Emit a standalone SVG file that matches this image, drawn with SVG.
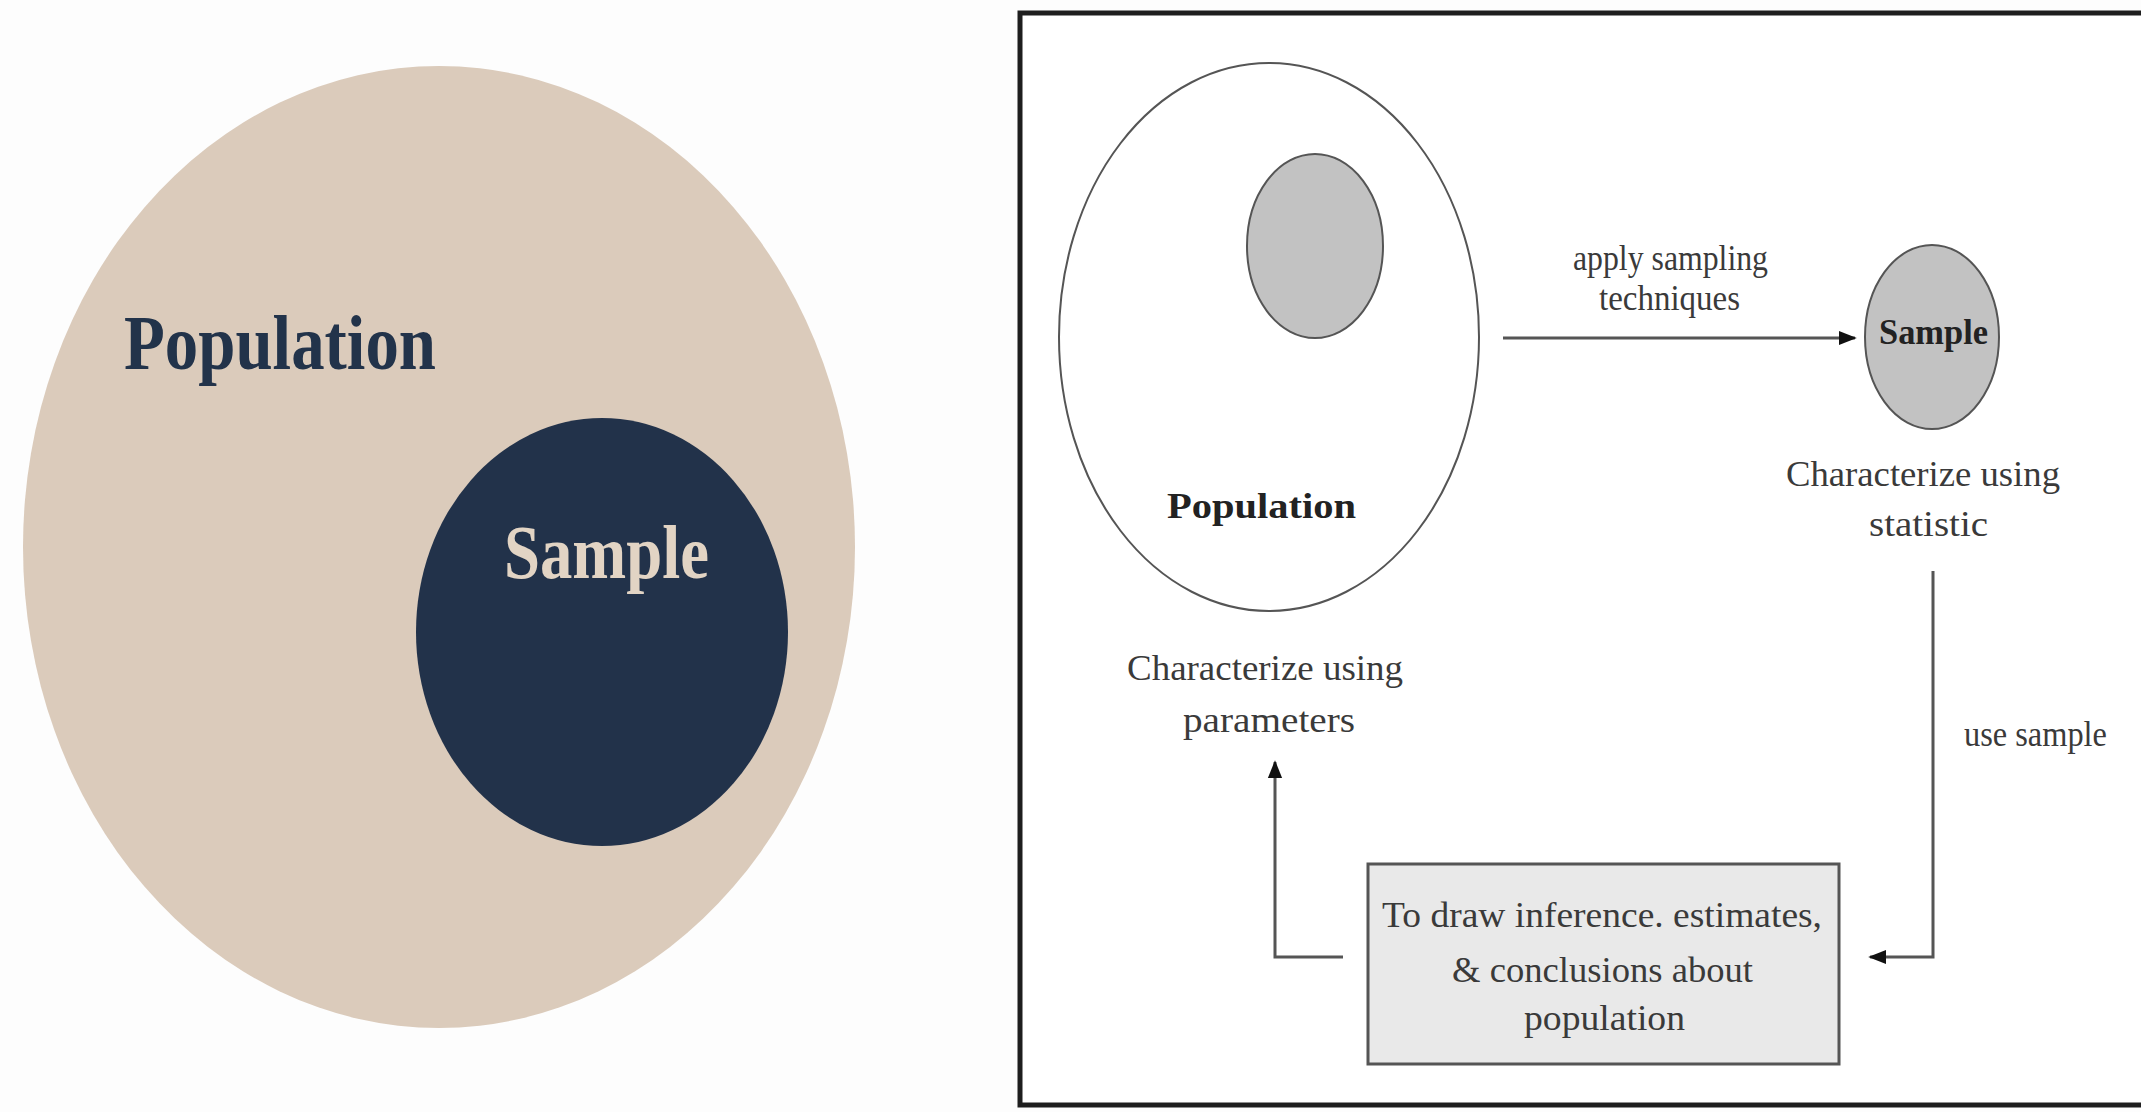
<svg xmlns="http://www.w3.org/2000/svg" width="2141" height="1112" viewBox="0 0 2141 1112">
  <style>
    .venn-label { font-family: "Liberation Serif", "Times New Roman", serif; font-weight: bold; }
    .lbl { font-family: "Liberation Serif", "Times New Roman", serif; font-size: 36px; fill: #3a3a3a; }
    .bold { font-weight: bold; fill: #222; }
    .outline { fill: none; stroke: #555; stroke-width: 2; }
    .grey { fill: #c2c2c2; stroke: #555; stroke-width: 2; }
    .conn { fill: none; stroke: #555; stroke-width: 3; }
  </style>
  <defs>
    <marker id="arrow" viewBox="0 0 10 10" refX="9" refY="5" markerWidth="6" markerHeight="6" orient="auto" markerUnits="strokeWidth">
      <path d="M0,1 L10,5 L0,9 Z" fill="#111"/>
    </marker>
  </defs>

  <rect x="0" y="0" width="2141" height="1112" fill="#fdfdfd"/>

  <!-- Venn-style population / sample figure -->
  <g id="venn-population">
    <ellipse cx="439" cy="547" rx="416" ry="481" fill="#dbcbbb"/>
    <text class="venn-label" x="124" y="369" font-size="78" fill="#22334a" textLength="312" lengthAdjust="spacingAndGlyphs">Population</text>
  </g>
  <g id="venn-sample">
    <ellipse cx="602" cy="632" rx="186" ry="214" fill="#22324a"/>
    <text class="venn-label" x="504" y="578" font-size="76" fill="#e2d4c4" textLength="205" lengthAdjust="spacingAndGlyphs">Sample</text>
  </g>

  <!-- Framed sampling-process diagram -->
  <rect x="1020" y="13" width="1130" height="1092" fill="#ffffff" stroke="#1e1e1e" stroke-width="5"/>

  <g id="population">
    <ellipse class="outline" cx="1269" cy="337" rx="210" ry="274"/>
    <ellipse class="grey" cx="1315" cy="246" rx="68" ry="92"/>
    <text class="lbl bold" x="1167" y="518" font-size="40" textLength="189" lengthAdjust="spacingAndGlyphs">Population</text>
    <text class="lbl" x="1127" y="680" textLength="276" lengthAdjust="spacingAndGlyphs">Characterize using</text>
    <text class="lbl" x="1183" y="732" textLength="172" lengthAdjust="spacingAndGlyphs">parameters</text>
  </g>

  <g id="sample">
    <ellipse class="grey" cx="1932" cy="337" rx="67" ry="92"/>
    <text class="lbl bold" x="1879" y="344" font-size="30" textLength="109" lengthAdjust="spacingAndGlyphs">Sample</text>
    <text class="lbl" x="1786" y="486" textLength="274" lengthAdjust="spacingAndGlyphs">Characterize using</text>
    <text class="lbl" x="1869" y="536" textLength="119" lengthAdjust="spacingAndGlyphs">statistic</text>
  </g>

  <g id="inference">
    <rect x="1368" y="864" width="471" height="200" fill="#e9e9e9" stroke="#555" stroke-width="3"/>
    <text class="lbl" x="1382" y="927" textLength="440" lengthAdjust="spacingAndGlyphs">To draw inference. estimates,</text>
    <text class="lbl" x="1452" y="982" textLength="301" lengthAdjust="spacingAndGlyphs">&amp; conclusions about</text>
    <text class="lbl" x="1524" y="1030" textLength="161" lengthAdjust="spacingAndGlyphs">population</text>
  </g>

  <g id="connectors">
    <line class="conn" x1="1503" y1="338" x2="1855" y2="338" marker-end="url(#arrow)"/>
    <text class="lbl" x="1573" y="270" font-size="34" textLength="195" lengthAdjust="spacingAndGlyphs">apply sampling</text>
    <text class="lbl" x="1599" y="310" font-size="34" textLength="141" lengthAdjust="spacingAndGlyphs">techniques</text>

    <polyline class="conn" points="1933,571 1933,957 1870,957" marker-end="url(#arrow)"/>
    <text class="lbl" x="1964" y="746" font-size="34" textLength="143" lengthAdjust="spacingAndGlyphs">use sample</text>

    <polyline class="conn" points="1343,957 1275,957 1275,762" marker-end="url(#arrow)"/>
  </g>
</svg>
